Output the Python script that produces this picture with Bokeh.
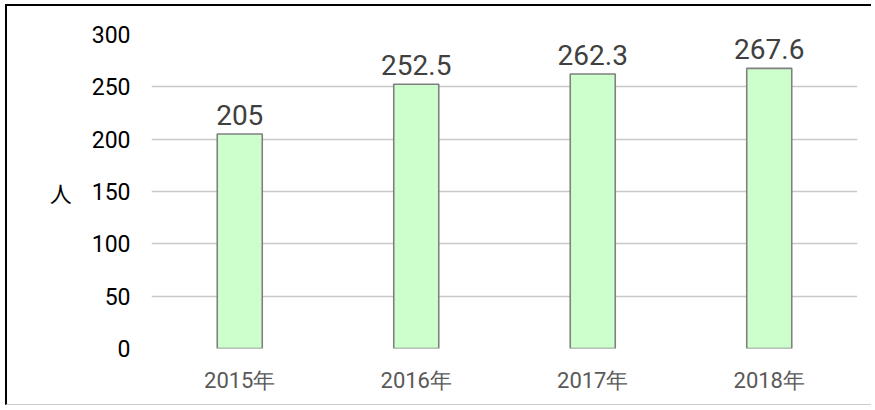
from bokeh.plotting import figure
from bokeh.models import ColumnDataSource, FactorRange, Range1d, FixedTicker
from bokeh.core.properties import value
from bokeh.embed import file_html
from bokeh.resources import INLINE

years = ["2015年", "2016年", "2017年", "2018年"]
people = [205, 252.5, 262.3, 267.6]
label_texts = ["205", "252.5", "262.3", "267.6"]
y_ticks = [0, 50, 100, 150, 200, 250, 300]

src = ColumnDataSource(dict(x=years, y=people, t=label_texts))

p = figure(
    x_range=FactorRange(*years, range_padding=0),
    y_range=Range1d(0, 300),
    width=866, height=401,
    output_backend="svg", toolbar_location=None,
    min_border_left=144, min_border_top=28, min_border_right=16, min_border_bottom=59,
)
p.styles = {"margin-left": "5px", "margin-top": "4px",
            "border-top": "2px solid black", "border-left": "2px solid black",
            "border-bottom": "1px solid #cccccc"}
p.outline_line_color = None
p.background_fill_color = "white"
p.border_fill_color = "white"

p.vbar(x="x", top="y", width=0.255, source=src,
       fill_color="#ccffcc", line_color="#808080", line_width=1.6)

p.text(x="x", y="y", text="t", source=src, text_align="center",
       text_baseline="alphabetic", y_offset=-19,
       text_font=value("Roboto"), text_font_size="28px", text_color="#404040")

p.xgrid.grid_line_color = None
p.ygrid.grid_line_color = "#c8c8c8"
p.ygrid.grid_line_width = 1.6
p.yaxis.ticker = FixedTicker(ticks=y_ticks)

for ax in (p.xaxis[0], p.yaxis[0]):
    ax.axis_line_color = None
    ax.major_tick_line_color = None
    ax.minor_tick_line_color = None

p.yaxis.major_label_text_font = "Roboto"
p.yaxis.major_label_text_font_size = "23px"
p.yaxis.major_label_text_color = "black"
p.yaxis.major_label_standoff = 15
p.yaxis.axis_label = "人"
p.yaxis.axis_label_orientation = "horizontal"
p.yaxis.axis_label_text_font = "Noto Sans CJK JP"
p.yaxis.axis_label_text_font_style = "normal"
p.yaxis.axis_label_text_font_size = "22px"
p.yaxis.axis_label_text_color = "black"
p.yaxis.axis_label_standoff = 17

p.xaxis.major_label_text_font = "Roboto"
p.xaxis.major_label_text_font_size = "22px"
p.xaxis.major_label_text_color = "#595959"
p.xaxis.major_label_standoff = 13

open("out.html", "w").write(file_html(p, INLINE))
